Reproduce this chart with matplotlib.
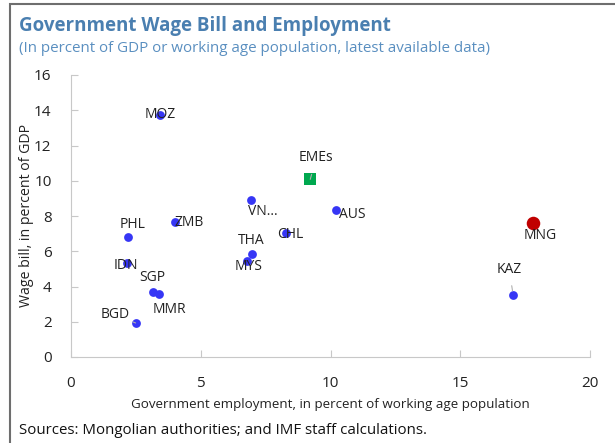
import matplotlib.pyplot as plt
from matplotlib.patches import Rectangle

plt.rcParams['font.family'] = ['Open Sans', 'DejaVu Sans']

names = ['MOZ', 'VN...', 'AUS', 'ZMB', 'PHL', 'CHL', 'THA', 'MYS',
         'IDN', 'SGP', 'MMR', 'BGD', 'KAZ']
emp = [3.42, 6.94, 10.2, 4.0, 2.21, 8.28, 6.96, 6.77,
       2.15, 3.15, 3.39, 2.49, 17.04]
wage = [13.75, 8.92, 8.32, 7.67, 6.8, 7.06, 5.85, 5.45,
        5.32, 3.71, 3.58, 1.93, 3.52]
# label offsets in pixels
offs = [(0, 0), (12, -12), (17, -4), (14, -1), (4, 13), (4, -2), (0, 13), (2, -6),
        (-1, -2), (0, 14), (10, -16), (-20, 8), (-4, 25)]
lines = {'BGD', 'KAZ'}

mng = (17.8, 7.6)
emes = (9.22, 10.08)

fig = plt.figure(figsize=(6.15, 4.43), dpi=100)
fig.patches.append(Rectangle((10 / 615, -0.1), 1.2, (443 - 4) / 443 + 0.1,
                             transform=fig.transFigure, fill=False,
                             edgecolor='#6e6e6e', linewidth=1.5))
ax = fig.add_axes([71 / 615, 1 - 357 / 443, (590 - 71) / 615, (357 - 75) / 443])

blue = '#3636f5'
ax.scatter(emp, wage, s=40, color=blue, zorder=3, linewidths=0)
ax.scatter([mng[0]], [mng[1]], s=95, color='#c00000', zorder=3, linewidths=0)
ax.scatter([emes[0]], [emes[1]], s=78, marker='s', color='#00a84f', zorder=3, linewidths=0)

for n, x, y, o in zip(names, emp, wage, offs):
    kw = {}
    if n in lines:
        kw['arrowprops'] = dict(arrowstyle='-', color='#b0b0b0', lw=0.8,
                                shrinkA=4, shrinkB=3)
    ax.annotate(n, (x, y), xytext=o, textcoords='offset pixels',
                ha='center', va='center', fontsize=10, color='#222222', zorder=4, **kw)
ax.annotate('MNG', mng, xytext=(7, -12), textcoords='offset pixels',
            ha='center', va='center', fontsize=10, color='#222222')
ax.annotate('EMEs', emes, xytext=(6, 22), textcoords='offset pixels',
            ha='center', va='center', fontsize=10, color='#222222',
            arrowprops=dict(arrowstyle='-', color='#b0b0b0', lw=0.8, shrinkA=5, shrinkB=5))

ax.set_xlim(0, 20)
ax.set_ylim(0, 16)
ax.set_xticks([0, 5, 10, 15, 20])
ax.set_yticks(range(0, 17, 2))
for s in ['top', 'right']:
    ax.spines[s].set_visible(False)
for s in ['left', 'bottom']:
    ax.spines[s].set_color('#c8c8c8')
ax.tick_params(direction='in', length=5, color='#c8c8c8', labelsize=11,
               labelcolor='#222222', pad=14)
ax.set_xlabel('Government employment, in percent of working age population',
              fontsize=9.6, color='#222222', va='center')
ax.set_ylabel('Wage bill, in percent of GDP', fontsize=10.2, color='#222222', va='center')
ax.xaxis.set_label_coords(0.499, -0.167)
ax.yaxis.set_label_coords(-0.085, 0.503)

fig.text(19 / 615, 1 - 26 / 443, 'Government Wage Bill and Employment',
         fontsize=13.5, fontweight='bold', color='#4a7fb0', va='center')
fig.text(19 / 615, 1 - 48 / 443,
         '(In percent of GDP or working age population, latest available data)',
         fontsize=10.9, color='#5a8fc0', va='center')
fig.text(19 / 615, 1 - 430 / 443, 'Sources: Mongolian authorities; and IMF staff calculations.',
         fontsize=10.8, color='#111111', va='center')

fig.savefig('out.png', dpi=100)
